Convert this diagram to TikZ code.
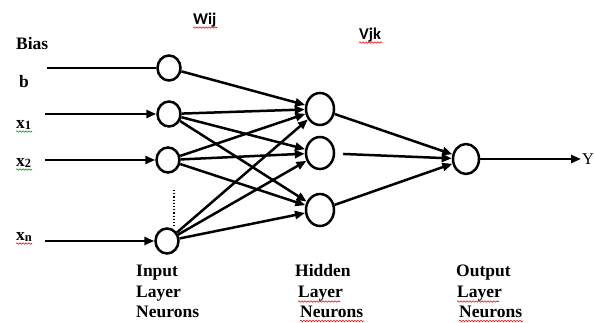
\documentclass[tikz,border=0pt]{standalone}
\usepackage{fontspec}
\setmainfont{Liberation Serif}
\newfontfamily\wfont{Carlito}
\usetikzlibrary{arrows.meta,shapes.geometric,decorations.pathmorphing}
\begin{document}
\begin{tikzpicture}[x=1pt,y=-1pt,
  neuron/.style={ellipse,draw,line width=2.5pt,inner sep=0pt},
  inneuron/.style={neuron,minimum width=23pt,minimum height=25pt},
  hidneuron/.style={neuron,minimum width=28pt,minimum height=32pt},
  outneuron/.style={neuron,minimum width=26pt,minimum height=30pt},
  conn/.style={line width=2.5pt,-{Triangle[length=10pt,width=8pt]}},
  plain/.style={line width=2.5pt},
  lbl/.style={font=\bfseries\fontsize{17.5}{21}\selectfont,inner sep=0pt,anchor=base west},
  wlbl/.style={font=\wfont\bfseries\fontsize{16.5}{19}\selectfont,inner sep=0pt,anchor=base west},
  squig/.style={decorate,decoration={snake,amplitude=0.7pt,segment length=3pt},line width=0.6pt},
  redsq/.style={squig,draw=red},
  greensq/.style={squig,draw=green!60!black}
]
\useasboundingbox (0,0) rectangle (595,323);

% neurons
\node[inneuron] (i0) at (169,68) {};
\node[inneuron] (i1) at (169,114) {};
\node[inneuron] (i2) at (168,160) {};
\node[inneuron] (i3) at (167,241) {};
\node[hidneuron] (h1) at (320,109) {};
\node[hidneuron] (h2) at (320,153) {};
\node[hidneuron] (h3) at (320,210) {};
\node[outneuron] (o) at (466,159) {};

% input lines
\coordinate (s0) at (47,68);
\coordinate (s1) at (45,114);
\coordinate (s2) at (45,160);
\coordinate (s3) at (45,241);
\draw[plain] (s0) -- (i0);
\draw[conn] (s1) -- (i1);
\draw[conn] (s2) -- (i2);
\draw[conn] (s3) -- (i3);

% input -> hidden
\draw[conn] (i0) -- (h1);
\foreach \a in {i1,i2,i3}{
  \foreach \b in {h1,h2,h3}{
    \draw[conn] (\a) -- (\b);
  }
}

% hidden -> output
\draw[conn] (h1) -- (o);
\draw[conn,shorten <=8pt] (h2) -- (o);
\draw[conn] (h3) -- (o);

% output
\coordinate (yend) at (581,159);
\draw[conn] (o) -- (yend);
\node[font=\fontsize{16.5}{19}\selectfont,inner sep=0pt,anchor=base west] (ylab) at (582,165) {Y};

% dotted line
\coordinate (d1) at (174,190);
\coordinate (d2) at (174,226);
\draw[dotted,line width=1.2pt] (d1) -- (d2);

% left labels
\node[lbl] (bias) at (16,50) {Bias};
\node[lbl] (blab) at (19,88) {b};
\node[lbl] (x1) at (16,129) {x\raisebox{-1pt}{\fontsize{12.5}{12}\selectfont 1}};
\node[lbl] (x2) at (16,167) {x\raisebox{-1pt}{\fontsize{12.5}{12}\selectfont 2}};
\node[lbl] (xn) at (16,241) {x\raisebox{-1pt}{\fontsize{12.5}{12}\selectfont n}};
\draw[greensq] (16,131.5) -- (32,131.5);
\draw[greensq] (16,169.5) -- (32,169.5);
\draw[redsq] (16,243.5) -- (32,243.5);

% weight labels
\node[wlbl] (wij) at (193,25) {Wij};
\node[wlbl] (vjk) at (359,40) {Vjk};
\draw[redsq] (193,27.5) -- (217,27.5);
\draw[redsq] (359,42.5) -- (382,42.5);

% layer labels
\node[lbl] (in1) at (136,277) {Input};
\node[lbl] (in2) at (136,298) {Layer};
\node[lbl] (in3) at (136,318) {Neurons};

\node[lbl] (hd1) at (295,277) {Hidden};
\node[lbl] (hd2) at (298,298) {Layer};
\node[lbl] (hd3) at (300,318) {Neurons};
\draw[redsq] (298,301.5) -- (340,301.5);
\draw[redsq] (300,321) -- (364,321);

\node[lbl] (ou1) at (456,277) {Output};
\node[lbl] (ou2) at (457,298) {Layer};
\node[lbl] (ou3) at (459,318) {Neurons};
\draw[redsq] (457,301.5) -- (499,301.5);
\draw[redsq] (459,321) -- (523,321);
\end{tikzpicture}
\end{document}
